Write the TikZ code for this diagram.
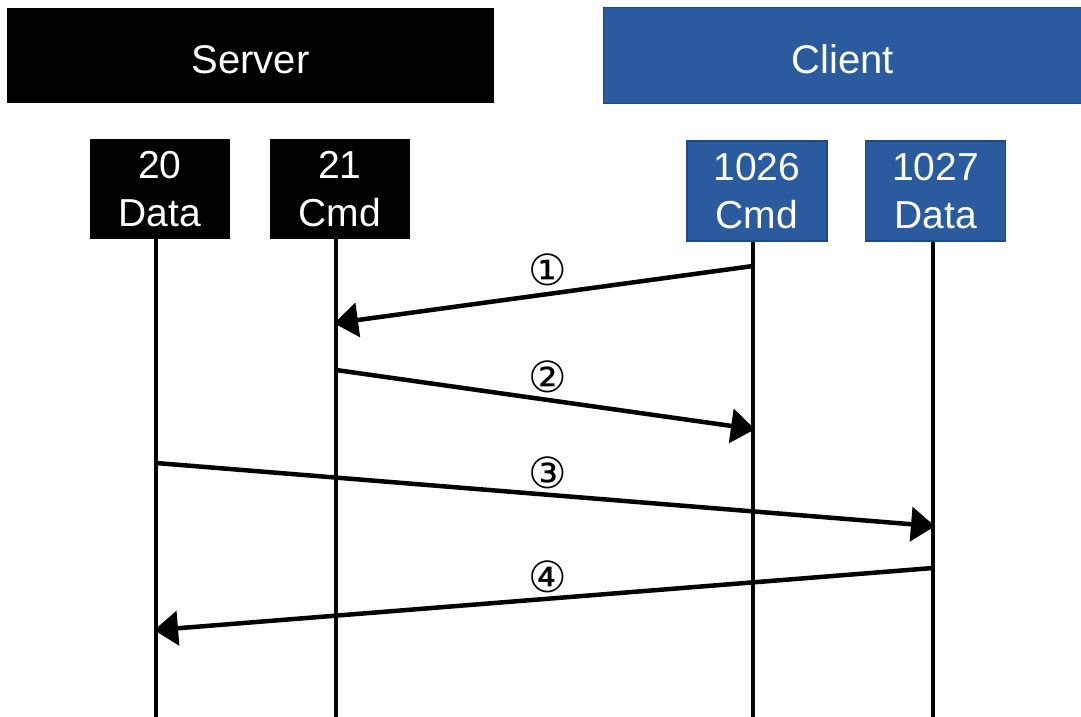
\documentclass[tikz,border=0pt]{standalone}
\usepackage{fontspec}
\setmainfont{Liberation Sans}
\newfontfamily\dejavu{DejaVu Sans}
\usetikzlibrary{arrows.meta}
\definecolor{cblue}{HTML}{2A5B9E}
\definecolor{cblueb}{HTML}{1F4A80}
\tikzset{
  hdr/.style={draw=none, minimum height=95pt, inner sep=0pt, text=white, text height=37pt, text depth=0pt, font=\fontsize{40}{46}\selectfont},
  port/.style={minimum width=140pt, minimum height=100pt, inner sep=0pt, text=white, align=center, font=\fontsize{39}{48}\selectfont},
  life/.style={line width=4pt},
  msg/.style={line width=4.5pt, -{Triangle[length=24pt,width=34pt]}, shorten >=-2pt},
  num/.style={font=\dejavu\fontsize{43}{46}\selectfont, inner sep=0pt}
}
\begin{document}
\begin{tikzpicture}[x=1pt,y=-1pt]
\useasboundingbox (0,0) rectangle (1081,717);
\fill[white] (0,0) rectangle (1081,717);
% headers
\node[hdr, fill=black, minimum width=487pt] (server) at (250.5,55.5) {Server};
\node[hdr, fill=cblue, draw=cblueb, line width=1pt, minimum width=480pt] (client) at (843,55.5) {Client};
% ports
\node[port, fill=black] (p20) at (160,189) {20\\Data};
\node[port, fill=black] (p21) at (340,189) {21\\Cmd};
\node[port, fill=cblue, draw=cblueb, line width=1.5pt] (p1026) at (757,191) {1026\\Cmd};
\node[port, fill=cblue, draw=cblueb, line width=1.5pt] (p1027) at (935.5,191) {1027\\Data};
% lifeline ends
\coordinate (e20) at (156,717);
\coordinate (e21) at (336,717);
\coordinate (e1026) at (753,717);
\coordinate (e1027) at (933,717);
\draw[life] (p20.south -| e20) -- (e20);
\draw[life] (p21.south -| e21) -- (e21);
\draw[life] (p1026.south -| e1026) -- (e1026);
\draw[life] (p1027.south -| e1027) -- (e1027);
% message points
\coordinate (m1s) at (753,266);
\coordinate (m1e) at (336,323);
\coordinate (m2s) at (336,370);
\coordinate (m2e) at (753,429);
\coordinate (m3s) at (156,463);
\coordinate (m3e) at (933,526);
\coordinate (m4s) at (933,568);
\coordinate (m4e) at (156,630);
\draw[msg] (m1s) -- (m1e);
\draw[msg] (m2s) -- (m2e);
\draw[msg] (m3s) -- (m3e);
\draw[msg] (m4s) -- (m4e);
\node[num] (n1) at (548,270) {①};
\node[num] (n2) at (548,377) {②};
\node[num] (n3) at (548,473) {③};
\node[num] (n4) at (548,577) {④};
\end{tikzpicture}
\end{document}
